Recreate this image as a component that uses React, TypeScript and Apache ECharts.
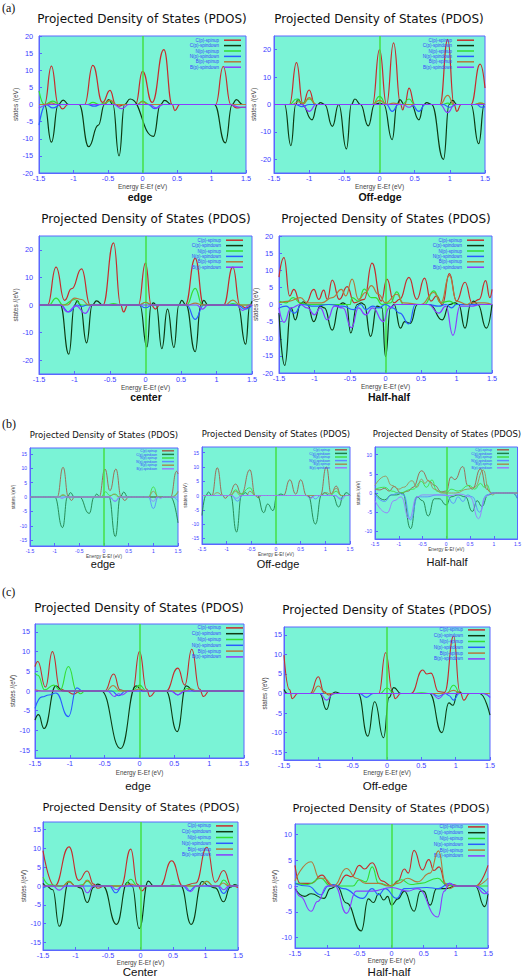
import React, { useEffect, useRef } from "react";
import * as echarts from "echarts";

// ---------- tick labels / names ----------
const SERIES_NAMES = ["C(p)-spinup", "C(p)-spindown", "N(p)-spinup", "N(p)-spindown", "B(p)-spinup", "B(p)-spindown"];
const Y_TICKS_20 = [-20, -15, -10, -5, 0, 5, 10, 15, 20];
const Y_TICKS_25 = [-20, -10, 0, 10, 20];
const Y_TICKS_17 = [-15, -10, -5, 0, 5, 10, 15];
const Y_TICKS_12 = [-10, -5, 0, 5, 10];
const TITLE = "Projected Density of States (PDOS)";
const X_NAME = "Energy E-Ef (eV)";
const Y_NAME = "states /(eV)";

// ---------- (a) edge ----------
const aEdgeCUp = [[-1.5,0],[-1.42,0],[-1.32,11.2],[-1.22,0],[-1.16,-1.3],[-1.08,0],[-0.84,0],[-0.72,11.4],[-0.58,0.6],[-0.47,4.1],[-0.39,0],[-0.34,-0.5],[-0.26,0],[-0.1,0],[0,9.7],[0.14,0.6],[0.31,16],[0.43,0],[0.47,-1.8],[0.54,0],[1.06,0],[1.17,11.1],[1.28,0],[1.36,-1],[1.45,-0.8],[1.5,-0.8]];
const aEdgeCDown = [[-1.5,0],[-1.42,0],[-1.32,-11],[-1.22,0],[-1.15,1.3],[-1.07,0],[-0.92,0],[-0.78,-12.3],[-0.64,-6],[-0.55,0],[-0.49,1.4],[-0.43,0],[-0.34,-15],[-0.26,0],[-0.18,1.6],[0.16,-9.3],[0.26,0],[0.32,1.2],[0.42,0],[1.04,0],[1.2,-11.2],[1.3,0],[1.36,1.4],[1.45,0],[1.5,0]];
const aEdgeNUp = [[-1.5,4],[-1.42,0],[-1.3,1],[-1.2,0],[-0.8,0],[-0.72,0.6],[-0.62,0],[-0.54,0.5],[-0.47,1.1],[-0.4,0],[-0.08,0],[0,1],[0.1,0],[1.5,0]];
const aEdgeNDown = [[-1.5,-6],[-1.4,0],[-1.3,-1],[-1.18,0],[-0.8,0],[-0.7,-0.5],[-0.6,0],[0.08,0],[0.18,-1.2],[0.28,0],[1.5,0]];
const aEdgeBUp = [[-1.5,0],[-1.4,0],[-1.32,0.5],[-1.24,0],[-0.58,0],[-0.47,1.3],[-0.38,0],[-0.08,0],[0,0.8],[0.08,0],[1.5,0]];
const aEdgeBDown = [[-1.5,-1],[-1.35,0],[-0.42,0],[-0.3,-1.2],[-0.2,0],[0.1,0],[0.2,-1],[0.3,0],[1.25,0],[1.42,-0.8],[1.5,-0.8]];

// ---------- (a) off-edge ----------
const aOffCUp = [[-1.5,0],[-1.28,0],[-1.18,15.3],[-1.09,0.3],[-1.0,5.3],[-0.92,0],[-0.1,0],[0,20],[0.1,0],[0.2,22.5],[0.3,0],[0.33,-2],[0.36,0],[0.42,6],[0.5,0],[0.86,0],[0.97,23.8],[1.06,0],[1.1,-2.5],[1.16,0],[1.3,0],[1.43,14.7],[1.5,6]];
const aOffCDown = [[-1.5,0],[-1.35,0],[-1.26,-15],[-1.19,0],[-1.16,2],[-1.1,0],[-0.96,-5.6],[-0.88,0],[-0.84,0.7],[-0.78,0],[-0.67,-8],[-0.58,0],[-0.47,-16.2],[-0.4,0],[-0.35,2],[-0.27,0],[-0.16,-7.8],[-0.07,0],[0,0.5],[0.06,0],[0.18,-12.8],[0.25,0],[0.29,1.8],[0.35,0],[0.45,0],[0.56,-5.6],[0.63,0],[0.67,0.7],[0.74,0],[0.91,-20],[0.99,0],[1.04,1.5],[1.1,0],[1.3,0],[1.41,-14.3],[1.49,0],[1.5,0]];
const aOffNUp = [[-1.5,0],[-1.28,0],[-1.18,2],[-1.1,0.5],[-1.0,2],[-0.9,0],[-0.1,0],[0,3],[0.1,0],[0.32,0],[0.42,2],[0.5,0],[0.9,0],[0.97,0.5],[1.05,0],[1.35,0],[1.43,0.5],[1.5,0]];
const aOffNDown = [[-1.5,0],[-1.2,0],[-1.1,-0.8],[-1.0,0],[0.1,0],[0.18,-2.5],[0.27,0],[0.46,0],[0.56,-2.5],[0.65,0],[0.9,0],[1.0,-1],[1.1,0],[1.38,0],[1.45,-1],[1.5,-0.8]];
const aOffBUp = [[-1.5,0],[-1.25,0],[-1.15,1],[-1.08,0.3],[-1.0,2.5],[-0.9,0],[-0.1,0],[0,1.5],[0.1,0],[0.2,0.5],[0.3,0],[0.86,0],[0.97,3.3],[1.06,0],[1.35,0],[1.43,0.5],[1.5,0]];
const aOffBDown = [[-1.5,0],[-1.1,0],[-1.0,-2.5],[-0.9,0],[0.33,0],[0.42,-1],[0.5,0],[0.86,0],[0.97,-3],[1.07,0],[1.5,0]];

// ---------- (a) center ----------
const aCenterCUp = [[-1.5,0],[-1.38,0],[-1.26,13.7],[-1.14,1.7],[-1.04,5.9],[-0.9,13.1],[-0.78,0],[-0.6,0],[-0.45,22.5],[-0.35,0],[-0.31,-2.5],[-0.25,0],[-0.1,0],[0,15.2],[0.08,0],[0.14,-1.5],[0.2,0],[0.56,0],[0.7,16.9],[0.82,0],[1.1,0],[1.23,13.7],[1.33,0],[1.41,-1],[1.5,0]];
const aCenterCDown = [[-1.5,0],[-1.2,0],[-1.08,-17.8],[-1.0,0],[-0.96,1.5],[-0.92,0],[-0.83,-13.7],[-0.75,0],[-0.69,1.5],[-0.6,0],[-0.08,0],[0.02,-15.2],[0.08,0],[0.11,0.8],[0.15,0],[0.23,-15.8],[0.31,-1.5],[0.4,-15.4],[0.47,0],[0.51,1.7],[0.57,0],[0.7,-16.9],[0.78,0],[0.82,1.7],[0.88,0],[1.3,0],[1.41,-14.2],[1.47,0],[1.5,1.4]];
const aCenterNUp = [[-1.5,0],[-1.36,0],[-1.26,2.5],[-1.16,0],[-1.0,2],[-0.9,0],[-0.55,0],[-0.45,0.5],[-0.35,0],[-0.08,0],[0,1],[0.08,0],[0.58,0],[0.7,6],[0.8,0],[1.15,0],[1.23,0.5],[1.32,0],[1.5,0]];
const aCenterNDown = [[-1.5,0],[-1.2,0],[-1.08,-2.5],[-0.96,0],[-0.9,-0.5],[-0.82,0],[-0.1,0],[0,-1],[0.1,0],[0.58,0],[0.7,-5.2],[0.82,0],[1.3,0],[1.4,-1.5],[1.5,0]];
const aCenterBUp = [[-1.5,0],[-1.1,0],[-1.0,2.5],[-0.9,2],[-0.8,0],[-0.1,0],[0,1],[0.1,0],[0.6,0],[0.7,0.7],[0.8,0],[1.12,0],[1.23,1.8],[1.33,0],[1.5,0]];
const aCenterBDown = [[-1.5,0],[-1.2,0],[-1.1,-2.5],[-0.98,-0.3],[-0.85,-3],[-0.75,0],[0.72,0],[0.8,-1.5],[0.88,0],[1.28,0],[1.37,-2],[1.46,0],[1.5,0]];

// ---------- (a) half-half ----------
const aHalfCUp = [[-1.5,8],[-1.43,13.7],[-1.35,2.5],[-1.29,4.4],[-1.2,0.3],[-1.12,0.5],[-1.01,4.4],[-0.94,1.5],[-0.87,4.2],[-0.82,1.5],[-0.75,7.1],[-0.65,1.5],[-0.54,5.2],[-0.44,0.5],[-0.3,1.5],[-0.19,12.1],[-0.06,1],[0.02,7.4],[0.12,0.5],[0.2,1.5],[0.33,7.9],[0.44,1.5],[0.55,7.7],[0.64,1],[0.72,2.5],[0.8,0],[0.9,9],[1.0,1],[1.12,6.5],[1.22,0.5],[1.32,1.5],[1.41,7],[1.47,2],[1.5,4.4]];
const aHalfCDown = [[-1.5,-2.5],[-1.42,-17.8],[-1.33,-1],[-1.27,-4.5],[-1.2,0],[-1.16,0.8],[-1.1,0],[-1.01,-5],[-0.92,-0.5],[-0.86,-1],[-0.75,-7.5],[-0.65,0],[-0.6,0.5],[-0.55,0],[-0.49,-8.3],[-0.4,0],[-0.34,0.5],[-0.3,0],[-0.21,-9.3],[-0.12,-0.5],[-0.05,-1],[0,-15.2],[0.07,-1],[0.12,0],[0.21,-6.9],[0.27,-5],[0.35,-5.5],[0.45,0],[0.62,0],[0.8,-4.5],[0.9,0],[0.98,0.5],[1.03,0],[1.12,-6.9],[1.2,0],[1.24,1],[1.3,0],[1.42,-6.9],[1.5,0]];
const aHalfNUp = [[-1.5,1],[-1.4,0.5],[-1.3,2],[-1.2,0.5],[-1.1,0],[-0.5,0],[-0.47,2],[-0.38,1],[-0.3,4.5],[-0.2,2],[-0.14,2],[-0.05,0],[0.07,0.5],[0.16,3.7],[0.25,0],[0.55,0],[0.68,4],[0.78,0.5],[0.9,1],[1.0,0],[1.5,0]];
const aHalfNDown = [[-1.5,-1],[-1.4,-0.5],[-1.28,-2.5],[-1.18,0],[-1.0,-0.5],[-0.8,0],[-0.6,-0.5],[-0.45,-1.5],[-0.35,0],[-0.28,-1.5],[-0.18,-0.5],[-0.1,-1],[0,0],[0.1,-1],[0.2,-2.5],[0.33,-5.7],[0.42,0],[0.6,0],[0.75,-0.5],[0.85,0],[0.93,-1],[1.0,0],[1.5,0]];
const aHalfBUp = [[-1.5,0.5],[-1.35,1],[-1.2,2],[-1.1,0.5],[-0.9,0.5],[-0.75,2],[-0.62,4.4],[-0.56,2.5],[-0.47,7.4],[-0.38,1.5],[-0.28,3.5],[-0.2,5.5],[-0.1,3],[0,0.5],[0.16,3],[0.25,0.5],[0.5,0],[0.68,3.5],[0.78,0.5],[0.9,8.5],[1.0,1],[1.15,0],[1.2,0.5],[1.4,0.5],[1.5,0]];
const aHalfBDown = [[-1.5,-1],[-1.43,-5.2],[-1.33,-1],[-1.2,0],[-1.1,-1],[-1.0,-3],[-0.92,-1],[-0.82,-4.5],[-0.72,-0.5],[-0.6,-1],[-0.48,-6.8],[-0.38,-1],[-0.28,-3],[-0.18,-1],[-0.03,-5],[0.05,-1],[0.15,0],[0.6,0],[0.75,-2.5],[0.85,-0.5],[0.95,-9],[1.05,-0.5],[1.2,-0.5],[1.35,0],[1.5,0]];

// ---------- (b) edge ----------
const bEdgeCUp = [[-1.5,0],[-0.95,0],[-0.83,10.3],[-0.72,0],[-0.66,-1.2],[-0.6,0],[-0.1,0],[0.02,9.7],[0.12,2.2],[0.24,9.7],[0.35,0],[0.42,-1.2],[0.5,0],[1.35,0],[1.47,8.9],[1.5,8]];
const bEdgeCDown = [[-1.5,0],[-1.0,0],[-0.84,-10.6],[-0.74,0],[-0.68,1.5],[-0.6,0],[-0.5,0],[-0.3,-5.7],[-0.2,0],[-0.15,1],[-0.08,0],[0.1,0],[0.23,-13.7],[0.33,0],[0.4,1.7],[0.48,0],[1.35,0],[1.5,-9]];
const bEdgeNUp = [[-1.5,0],[-0.92,0],[-0.83,0.6],[-0.74,0],[-0.06,0],[0.03,1.8],[0.12,0.5],[0.23,1],[0.32,0],[0.9,0],[1.0,3.5],[1.1,0],[1.35,0],[1.5,1.5]];
const bEdgeNDown = [[-1.5,0],[0.1,0],[0.23,-1.5],[0.33,0],[0.9,0],[1.0,-4],[1.1,0],[1.4,0],[1.5,-1.5]];
const bEdgeBUp = [[-1.5,0],[-0.92,0],[-0.83,0.8],[-0.74,0],[0.1,0],[0.2,1],[0.3,0],[0.9,0],[1.0,2],[1.1,0],[1.4,0],[1.5,2]];
const bEdgeBDown = [[-1.5,0],[-0.92,0],[-0.85,-0.5],[-0.78,0],[0.12,0],[0.22,-1.5],[0.32,0],[0.9,0],[1.0,-1.5],[1.08,0],[1.15,-0.5],[1.2,0],[1.5,0]];

// ---------- (b) off-edge ----------
const bOffCUp = [[-1.5,0],[-1.3,0],[-1.19,9.7],[-1.08,0],[-1.03,-1],[-0.96,0],[-0.82,4],[-0.7,0.5],[-0.53,9],[-0.42,0],[-0.36,-0.8],[-0.3,0],[0.15,0],[0.28,5.5],[0.4,0.5],[0.5,5.5],[0.62,0],[0.7,-0.8],[0.78,0],[0.9,0],[1.02,10],[1.12,0.5],[1.22,3.3],[1.32,0],[1.5,0]];
const bOffCDown = [[-1.5,-7],[-1.42,0],[-1.37,1.2],[-1.3,0],[-0.92,0],[-0.8,-12.8],[-0.7,0],[-0.62,1],[-0.55,0],[-0.38,0],[-0.25,-6],[-0.17,-3],[-0.06,-5.3],[0.02,0],[0.1,0.5],[0.18,0],[0.65,0],[0.8,-10],[0.92,0],[0.98,1],[1.08,0],[1.15,0],[1.27,-4],[1.37,0],[1.42,1],[1.5,0]];
const bOffNUp = [[-1.5,0],[-0.92,0],[-0.82,2],[-0.72,0.5],[-0.53,2.7],[-0.42,0],[1.1,0],[1.22,1.5],[1.32,0],[1.5,0]];
const bOffNDown = [[-1.5,0],[-0.9,0],[-0.78,-2],[-0.68,0],[0.7,0],[0.8,-1.2],[0.9,0],[1.2,0],[1.3,-1],[1.4,0],[1.5,0]];
const bOffBUp = [[-1.5,0],[-1.3,0],[-1.19,1],[-1.08,0],[-0.92,0],[-0.82,1.5],[-0.72,0],[-0.6,0],[-0.53,1.5],[-0.42,0],[0.9,0],[1.02,1],[1.1,0.5],[1.22,2.5],[1.32,0],[1.5,0]];
const bOffBDown = [[-1.5,0],[-0.9,0],[-0.8,-1],[-0.7,0],[0.6,0],[0.7,-1],[0.8,0],[1.2,0],[1.32,-1.5],[1.42,0],[1.5,0]];

// ---------- (b) half-half ----------
const bHalfCUp = [[-1.5,1],[-1.4,0.8],[-1.3,1.2],[-1.2,0.5],[-1.1,1.7],[-0.95,0],[-0.8,0.5],[-0.7,1.5],[-0.52,5.8],[-0.35,3],[-0.25,2],[-0.1,0.3],[0,0.5],[0.1,4.2],[0.18,3.5],[0.35,6.9],[0.45,2],[0.55,1],[0.72,6.3],[0.85,1],[0.95,0],[1.5,0]];
const bHalfCDown = [[-1.5,0],[-1.3,-1.8],[-1.15,-0.5],[-1.05,-0.5],[-0.92,0],[-0.75,-9.3],[-0.62,-1],[-0.5,-2],[-0.38,-6],[-0.25,-1.5],[-0.15,-1.5],[0,-3.1],[0.1,-1],[0.25,-0.5],[0.4,-1],[0.55,-4.8],[0.65,-2],[0.75,-3.5],[0.88,-0.5],[1.0,0],[1.4,0],[1.5,-1.5]];
const bHalfNUp = [[-1.5,1],[-1.3,1.5],[-1.15,0.5],[-1.0,0],[-0.7,1],[-0.52,3],[-0.42,1.5],[-0.3,3.4],[-0.2,0.5],[0,0],[0.1,1],[0.25,0.5],[0.48,2],[0.6,1],[0.72,2.5],[0.8,1.5],[0.85,2.2],[0.95,0],[1.5,0]];
const bHalfNDown = [[-1.5,-0.5],[-1.3,-2.2],[-1.15,-0.5],[-1.0,0],[-0.9,-0.5],[-0.75,-7],[-0.6,-1],[-0.4,-1],[-0.2,-0.5],[0,-0.5],[0.15,-2.7],[0.25,-1],[0.35,-2.2],[0.45,-0.5],[0.55,-1],[0.7,-5],[0.85,-0.5],[1.0,0],[1.4,0],[1.5,-1.5]];
const bHalfBUp = [[-1.5,2],[-1.28,4.4],[-1.15,2],[-1.0,1],[-0.9,1.5],[-0.72,3.2],[-0.62,1.5],[-0.52,3.6],[-0.45,2.5],[-0.38,3.3],[-0.25,1],[-0.1,0],[0.2,0],[0.45,1],[0.6,1.5],[0.78,6],[0.9,0.5],[0.97,-0.5],[1.05,0],[1.5,0]];
const bHalfBDown = [[-1.5,-2],[-1.25,-5.2],[-1.1,-2],[-0.95,-1],[-0.78,-6.8],[-0.62,-1],[-0.5,-0.5],[-0.2,-0.5],[0.05,-0.7],[0.3,-0.3],[0.5,-1],[0.68,-6.7],[0.82,-1],[0.95,0],[1.5,0]];

// ---------- (c) edge ----------
const cEdgeCUp = [[-1.5,6.2],[-1.46,7.5],[-1.35,1],[-1.25,10],[-1.14,0.5],[-1.05,0],[-0.95,-0.8],[-0.85,0],[-0.5,0],[-0.37,4.3],[-0.28,0.3],[-0.2,0],[-0.1,0],[0,10],[0.1,0.5],[0.15,-1.4],[0.24,0],[0.38,0],[0.55,5.8],[0.65,1.5],[0.75,10.6],[0.86,0.5],[0.92,-1.4],[1.0,0],[1.5,0]];
const cEdgeCDown = [[-1.5,-7.4],[-1.45,-6],[-1.37,-9.5],[-1.2,1.3],[-1.1,0],[-0.55,0],[-0.27,-14.6],[-0.05,1.3],[0.05,0],[0.38,0],[0.54,-10.3],[0.67,1.3],[0.78,0],[1.5,0]];
const cEdgeNUp = [[-1.5,4.5],[-1.46,4],[-1.36,0.3],[-1.23,1.5],[-1.14,0.2],[-1.02,6.2],[-0.9,0],[-0.85,-0.7],[-0.78,0],[-0.1,0],[0,1.5],[0.1,0],[0.6,0],[0.7,0.7],[0.8,0],[1.5,0]];
const cEdgeNDown = [[-1.5,-4.4],[-1.4,-1.5],[-1.3,-1],[-1.2,-0.5],[-1.02,-6.5],[-0.9,0.8],[-0.82,0],[-0.4,0],[-0.3,-1.2],[-0.2,0],[0.45,0],[0.55,-1],[0.65,0],[1.5,0]];
const cEdgeBUp = [[-1.5,0.3],[-1.4,0],[-0.48,0],[-0.38,1.4],[-0.28,0],[-0.1,0],[0,0.5],[0.1,0],[0.65,0],[0.74,0.5],[0.82,0],[1.5,0]];
const cEdgeBDown = [[-1.5,0],[-0.46,0],[-0.36,-1.4],[-0.3,-0.7],[-0.25,-1],[-0.15,0],[0.45,0],[0.55,-1],[0.65,0],[1.5,0]];

// ---------- (c) off-edge ----------
const cOffCUp = [[-1.5,9.8],[-1.42,1],[-1.38,-1.3],[-1.3,0],[-1.12,0],[-1.0,4.3],[-0.92,0.5],[-0.85,-0.4],[-0.75,0],[-0.12,0],[-0.02,10.4],[0.08,0.5],[0.12,-1.3],[0.2,0],[0.35,0],[0.52,6],[0.58,5],[0.64,5.2],[0.75,0.5],[0.84,0.3],[0.97,14.7],[1.06,0.5],[1.12,-1.7],[1.2,0],[1.5,0]];
const cOffCDown = [[-1.5,1],[-1.45,0],[-0.98,0],[-0.88,-4.1],[-0.8,0],[-0.75,0.4],[-0.68,0],[-0.42,0],[-0.28,-10.9],[-0.18,-2.1],[-0.05,-11.3],[0.03,-1],[0.1,1.5],[0.2,0],[0.62,0],[0.8,-10],[0.9,-2.4],[0.96,-3],[1.03,0.4],[1.1,0],[1.35,0],[1.5,-5.5]];
const cOffNUp = [[-1.5,0],[-0.1,0],[0,1.4],[0.1,0],[0.4,0],[0.5,0.2],[0.6,0],[0.87,0],[0.97,2.1],[1.07,0],[1.5,0]];
const cOffNDown = [[-1.5,0],[-0.4,0],[-0.3,-1],[-0.2,0],[0.65,0],[0.75,-0.7],[0.85,0],[0.9,-0.5],[0.97,-1.7],[1.05,0],[1.4,0],[1.5,-1]];
const cOffBUp = [[-1.5,0],[-1.1,0],[-1.0,1.9],[-0.9,0],[0.85,0],[0.97,0.8],[1.07,0],[1.5,0]];
const cOffBDown = [[-1.5,0],[-0.98,0],[-0.88,-1.7],[-0.78,0],[0.65,0],[0.75,-1.3],[0.85,0],[1.4,0],[1.5,-1]];

// ---------- (c) center ----------
const cCenterCUp = [[-1.5,9.4],[-1.32,0],[-1.1,10.4],[-0.95,1.5],[-0.82,4],[-0.72,0.5],[-0.66,-0.6],[-0.55,0],[-0.3,0],[-0.15,9.8],[-0.05,0.5],[0.02,-1.3],[0.1,0],[0.3,0],[0.48,6.7],[0.65,0],[0.85,0.8],[1.02,10.3],[1.15,1],[1.28,4.1],[1.4,0],[1.5,-0.4]];
const cCenterCDown = [[-1.5,0.7],[-1.45,0],[-1.35,-1],[-1.25,-10.7],[-1.1,1.2],[-1.0,0],[-0.92,-0.5],[-0.82,-4.4],[-0.72,-0.3],[-0.66,0.5],[-0.58,0],[-0.37,-10.2],[-0.2,1],[-0.13,0],[-0.02,-11.3],[0.12,1.3],[0.2,0],[0.62,0],[0.78,-10.2],[0.95,1.2],[1.05,0],[1.15,-0.5],[1.28,-4.2],[1.38,-0.3],[1.45,0.4],[1.5,0]];
const cCenterNUp = [[-1.5,2.3],[-1.4,0.3],[-1.2,0],[-1.1,1.3],[-1.0,0],[-0.9,0.3],[-0.82,1.3],[-0.72,0],[-0.25,0],[-0.15,1.8],[-0.05,0],[0.4,0],[0.5,0.3],[0.6,0],[0.92,0],[1.02,1.3],[1.12,0],[1.2,0],[1.28,1.6],[1.38,0],[1.5,0]];
const cCenterNDown = [[-1.5,-0.5],[-1.4,0],[-0.48,0],[-0.38,-1.8],[-0.28,0],[0.65,0],[0.75,-1.3],[0.85,0],[1.18,0],[1.28,-2],[1.38,0],[1.5,0]];
const cCenterBUp = [[-1.5,0],[-1.2,0],[-1.1,1.1],[-1.0,0],[-0.9,0],[-0.82,1.6],[-0.72,0],[-0.25,0],[-0.15,0.5],[-0.05,0],[0.92,0],[1.02,1.2],[1.12,0],[1.2,0],[1.27,0.8],[1.36,0],[1.5,0]];
const cCenterBDown = [[-1.5,0],[-1.35,0],[-1.25,-1.1],[-1.15,0],[-0.9,0],[-0.82,-1.8],[-0.72,0],[-0.46,0],[-0.37,-1],[-0.28,0],[0.68,0],[0.77,-1.5],[0.86,0],[1.2,0],[1.28,-1],[1.36,0],[1.5,0]];

// ---------- (c) half-half ----------
const cHalfCUp = [[-1.5,4],[-1.42,0.5],[-1.25,0.5],[-1.08,2.1],[-0.95,0.3],[-0.85,0],[-0.7,2.1],[-0.62,1.8],[-0.5,4],[-0.42,3.3],[-0.3,4.5],[-0.15,1],[0,0],[0.1,1],[0.2,3.3],[0.26,2.5],[0.35,6.9],[0.48,3.1],[0.58,5.1],[0.66,3],[0.74,3.7],[0.85,0],[0.95,0.3],[1.05,0],[1.3,0],[1.5,4]];
const cHalfCDown = [[-1.5,-0.5],[-1.35,-2],[-1.25,-1.5],[-1.05,-2.4],[-0.95,-0.5],[-0.85,0],[-0.7,-3.3],[-0.47,-8.7],[-0.36,-2.5],[-0.28,-3.2],[-0.2,-1.5],[-0.12,-2.7],[-0.06,-2],[0,-3.7],[0.1,-2.5],[0.2,-1],[0.35,-4.9],[0.45,-1],[0.5,-1],[0.6,-3.7],[0.7,-0.5],[0.85,-0.5],[1.0,0],[1.3,0],[1.45,-4],[1.5,-1.5]];
const cHalfNUp = [[-1.5,0.5],[-1.3,0.3],[-1.1,1.5],[-0.95,0],[-0.6,0],[-0.5,1.2],[-0.4,0.8],[-0.3,3.7],[-0.2,0.5],[0,0],[0.15,1.2],[0.3,0.3],[0.45,0.5],[0.72,1.5],[0.85,0.3],[1.0,0],[1.5,0]];
const cHalfNDown = [[-1.5,0.5],[-1.3,0],[-1.1,-1.7],[-0.98,0],[-0.9,0.3],[-0.75,-0.5],[-0.45,-2.4],[-0.3,-0.5],[-0.2,-1.7],[-0.1,-0.5],[0.08,-2.4],[0.2,-0.5],[0.55,-0.3],[0.73,-0.5],[0.9,0.5],[1.0,0],[1.3,0],[1.5,-1.7]];
const cHalfBUp = [[-1.5,1],[-1.25,4.7],[-1.12,1.5],[-1.05,1.5],[-0.9,0],[-0.7,3.4],[-0.55,1.5],[-0.4,0.5],[-0.2,0.5],[-0.05,0],[0.1,0.5],[0.25,1.5],[0.4,0.8],[0.6,2.5],[0.73,6.8],[0.84,0.5],[0.9,-0.5],[1.0,0],[1.3,0],[1.5,1.5]];
const cHalfBDown = [[-1.5,0],[-1.42,-2],[-1.25,-4.9],[-1.15,-3],[-1.0,0],[-0.88,0],[-0.7,-5.3],[-0.55,-1],[-0.3,-1],[0,-0.3],[0.25,-1],[0.4,-0.5],[0.72,-6],[0.82,-1],[0.9,0.5],[1.0,0],[1.3,0],[1.45,-1.5],[1.5,-1]];

// ---------- styling ----------
const COLORS_AC = ["#c62c2c", "#0e3a12", "#33dd33", "#2a5cff", "#b4783c", "#8a3cff"];
const COLORS_B = ["#a0604c", "#1e8048", "#44dd44", "#5a8cff", "#a09058", "#9a7aff"];
const PLOT_BG = "#7af3d6";
const BORDER = "#5a66ff";
const TICK_COLOR = "#3c3cff";

const STYLE: any = {
  a: { tick: 7.3, name: 6.5, legend: 4.5, legendLH: 5.4, legendW: 17, line: 1.2, colors: COLORS_AC },
  b: { tick: 5, name: 4.8, legend: 3.2, legendLH: 3.6, legendW: 12, line: 0.9, colors: COLORS_B },
  c: { tick: 7.2, name: 6.3, legend: 4.5, legendLH: 5.8, legendW: 17, line: 1.1, colors: COLORS_AC },
};

const PANELS: any[] = [
  { key: "a1", s: "a", left: 39, top: 36, width: 207, height: 137, yMin: -20, yMax: 20, yTicks: Y_TICKS_20, yMargin: 6, yGap: 13, xGap: 3.5, lg: [283, 37.5], title: [142, 19, 12], sub: ["edge", 140, 197], data: [aEdgeCUp, aEdgeCDown, aEdgeNUp, aEdgeNDown, aEdgeBUp, aEdgeBDown] },
  { key: "a2", s: "a", left: 274, top: 36, width: 211, height: 137, yMin: -25, yMax: 25, yTicks: Y_TICKS_25, yMargin: 3, yGap: 12, xGap: 3.5, lg: [50, 37.5], title: [379, 19, 12], sub: ["Off-edge", 380, 197], data: [aOffCUp, aOffCDown, aOffNUp, aOffNDown, aOffBUp, aOffBDown] },
  { key: "a3", s: "a", left: 39, top: 236, width: 213, height: 138, yMin: -25, yMax: 25, yTicks: Y_TICKS_25, yMargin: 6, yGap: 11, xGap: 3.5, lg: [281, 237.5], title: [146, 219, 12], sub: ["center", 146, 397], data: [aCenterCUp, aCenterCDown, aCenterNUp, aCenterNDown, aCenterBUp, aCenterBDown] },
  { key: "a4", s: "a", left: 279, top: 236, width: 213, height: 137, yMin: -20, yMax: 20, yTicks: Y_TICKS_20, yMargin: 6, yGap: 11, xGap: 3.5, lg: [40, 237.5], title: [386, 219, 12], sub: ["Half-half", 389, 397], data: [aHalfCUp, aHalfCDown, aHalfNUp, aHalfNDown, aHalfBUp, aHalfBDown] },
  { key: "b1", s: "b", left: 30, top: 448, width: 148, height: 98, yMin: -17, yMax: 17, yTicks: Y_TICKS_17, yMargin: 3, yGap: 8, xGap: 2, lg: [350, 449], title: [104, 435, 8.5], sub: ["edge", 103, 564], data: [bEdgeCUp, bEdgeCDown, bEdgeNUp, bEdgeNDown, bEdgeBUp, bEdgeBDown] },
  { key: "b2", s: "b", left: 202, top: 447, width: 148, height: 97, yMin: -17, yMax: 17, yTicks: Y_TICKS_17, yMargin: 3, yGap: 7, xGap: 2, lg: [177, 448], title: [276, 434, 8.5], sub: ["Off-edge", 278, 564], data: [bOffCUp, bOffCDown, bOffNUp, bOffNDown, bOffBUp, bOffBDown] },
  { key: "b3", s: "b", left: 375, top: 447, width: 143, height: 92, yMin: -12, yMax: 12, yTicks: Y_TICKS_12, yMargin: 3, yGap: 7, xGap: 2, lg: [15, 448], title: [447, 434, 8.5], sub: ["Half-half", 447, 562], data: [bHalfCUp, bHalfCDown, bHalfNUp, bHalfNDown, bHalfBUp, bHalfBDown] },
  { key: "c1", s: "c", left: 35, top: 624, width: 209, height: 134, yMin: -17, yMax: 17, yTicks: Y_TICKS_17, yMargin: 5, yGap: 11, xGap: 8, lg: [281, 625], title: [139, 608, 12], sub: ["edge", 138, 786], data: [cEdgeCUp, cEdgeCDown, cEdgeNUp, cEdgeNDown, cEdgeBUp, cEdgeBDown] },
  { key: "c2", s: "c", left: 284, top: 627, width: 206, height: 133, yMin: -17, yMax: 17, yTicks: Y_TICKS_17, yMargin: 2, yGap: 12, xGap: 6, lg: [39, 627], title: [387, 610, 12], sub: ["Off-edge", 385, 786], data: [cOffCUp, cOffCDown, cOffNUp, cOffNDown, cOffBUp, cOffBDown] },
  { key: "c3", s: "c", left: 43, top: 822, width: 195, height: 128, yMin: -17, yMax: 17, yTicks: Y_TICKS_17, yMargin: 2, yGap: 10, xGap: 4.5, lg: [291, 823], title: [141, 807, 11.3], sub: ["Center", 140, 972], data: [cCenterCUp, cCenterCDown, cCenterNUp, cCenterNDown, cCenterBUp, cCenterBDown] },
  { key: "c4", s: "c", left: 295, top: 824, width: 193, height: 124, yMin: -12, yMax: 12, yTicks: Y_TICKS_12, yMargin: 3, yGap: 11, xGap: 6, lg: [39, 824], title: [391, 808, 11.3], sub: ["Half-half", 389, 972], data: [cHalfCUp, cHalfCDown, cHalfNUp, cHalfNDown, cHalfBUp, cHalfBDown] },
];

const SUB_FONT: any = {
  a: 'bold 10.5px "Liberation Sans", Arial, sans-serif',
  b: '11px "Liberation Sans", Arial, sans-serif',
  c: '11.5px "Liberation Sans", Arial, sans-serif',
};

function textEl(text: string, x: number, y: number, font: string, align = "center") {
  return {
    type: "text",
    x,
    y,
    silent: true,
    style: { text, font, fill: "#111", textAlign: align, align, textVerticalAlign: "middle", verticalAlign: "middle" },
  };
}

function buildOption() {
  const grid: any[] = [];
  const xAxis: any[] = [];
  const yAxis: any[] = [];
  const series: any[] = [];
  const legend: any[] = [];
  const graphic: any[] = [];

  PANELS.forEach((p, i) => {
    const st = STYLE[p.s];
    grid.push({
      left: p.left, top: p.top, width: p.width, height: p.height,
      show: true, backgroundColor: PLOT_BG, borderColor: BORDER, borderWidth: 1,
    });
    xAxis.push({
      gridIndex: i, type: "value", min: -1.5, max: 1.5, interval: 0.5,
      name: X_NAME, nameLocation: "middle", nameGap: p.xGap + st.name / 2,
      nameTextStyle: { fontSize: st.name, color: "#444", fontFamily: "Liberation Sans" },
      axisLine: { show: true, onZero: false, lineStyle: { color: BORDER, width: 1 } },
      axisTick: { show: true, inside: true, length: 3, lineStyle: { color: BORDER } },
      axisLabel: { fontSize: st.tick, color: TICK_COLOR, margin: 2, fontFamily: "Liberation Sans" },
      splitLine: { show: false },
    });
    yAxis.push({
      gridIndex: i, type: "value", min: p.yMin, max: p.yMax,
      name: Y_NAME, nameLocation: "middle", nameGap: p.yGap + st.name / 2, nameRotate: 90,
      nameTextStyle: { fontSize: st.name, color: "#444", fontFamily: "Liberation Sans" },
      axisLine: { show: true, onZero: false, lineStyle: { color: BORDER, width: 1 } },
      axisTick: { show: true, inside: true, length: 3, customValues: p.yTicks, lineStyle: { color: BORDER } },
      axisLabel: { fontSize: st.tick, color: TICK_COLOR, margin: p.yMargin, customValues: p.yTicks, fontFamily: "Liberation Sans" },
      splitLine: { show: false },
    });
    const names: string[] = [];
    p.data.forEach((d: number[][], j: number) => {
      const name = SERIES_NAMES[j] + "#" + p.key;
      names.push(name);
      const s: any = {
        type: "line", name, xAxisIndex: i, yAxisIndex: i, data: d,
        smooth: 0.5, smoothMonotone: "x", showSymbol: false, symbol: "none",
        lineStyle: { width: st.line, color: st.colors[j] },
        itemStyle: { color: st.colors[j] },
        z: 3 + j,
      };
      if (j === 0) {
        s.markLine = {
          silent: true, symbol: ["none", "none"], label: { show: false },
          lineStyle: { color: "#44e044", width: 1.5, type: "solid" },
          data: [{ xAxis: 0 }],
        };
      }
      series.push(s);
    });
    legend.push({
      show: true, orient: "vertical", right: p.lg[0], top: p.lg[1], align: "right",
      icon: "rect", itemWidth: st.legendW, itemHeight: 1.5, itemGap: 0, padding: 0,
      selectedMode: false, data: names,
      formatter: (n: string) => n.split("#")[0],
      textStyle: { fontSize: st.legend, lineHeight: st.legendLH, color: TICK_COLOR, fontFamily: "Liberation Sans" },
    });
    graphic.push(textEl(TITLE, p.title[0], p.title[1], `${p.title[2]}px "DejaVu Sans", sans-serif`));
    graphic.push(textEl(p.sub[0], p.sub[1], p.sub[2], SUB_FONT[p.s]));
  });

  const serif = '12px "Liberation Serif", "DejaVu Serif", serif';
  graphic.push(textEl("(a)", 2, 8, serif, "left"));
  graphic.push(textEl("(b)", 2, 424, serif, "left"));
  graphic.push(textEl("(c)", 2, 592, serif, "left"));

  return { animation: false, backgroundColor: "#ffffff", grid, xAxis, yAxis, series, legend, graphic };
}

export default function App() {
  const ref = useRef<HTMLDivElement>(null);
  useEffect(() => {
    if (!ref.current) return;
    const chart = echarts.init(ref.current, undefined, { renderer: "svg" });
    chart.setOption(buildOption() as any);
    return () => chart.dispose();
  }, []);
  return <div ref={ref} style={{ position: "absolute", left: 0, top: 0, width: 524, height: 977 }} />;
}
